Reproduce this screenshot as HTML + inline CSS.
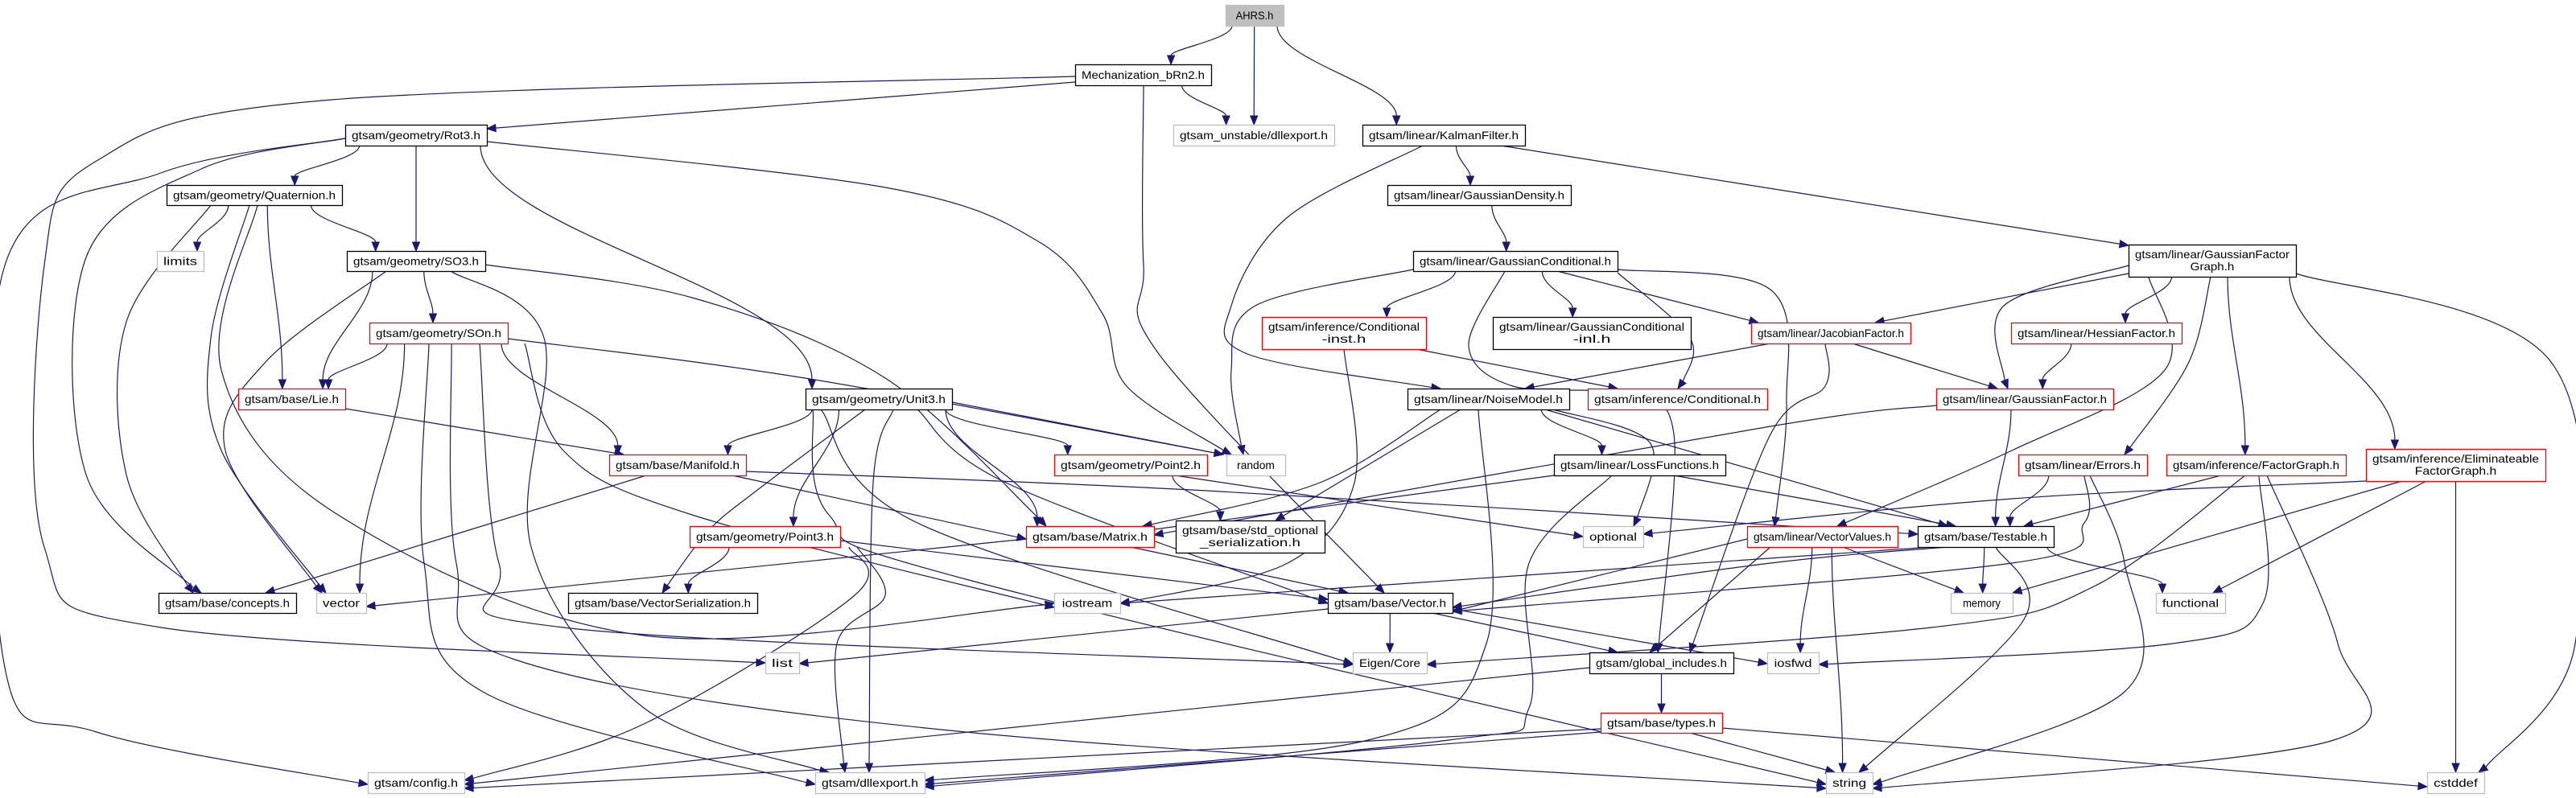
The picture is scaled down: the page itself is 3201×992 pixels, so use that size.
<!DOCTYPE html>
<html><head><meta charset="utf-8"><style>html,body{margin:0;padding:0;background:#fff}svg{display:block}</style></head>
<body>
<svg id="g" xmlns="http://www.w3.org/2000/svg" width="3201" height="992" viewBox="0 0 3201 992"></svg>
<script>
const N={
AHRS:[1523,6,1595,32,["AHRS.h"],"h"],
Mech:[1336,80,1505,106,["Mechanization_bRn2.h"],"b"],
UDll:[1458,155,1658,181,["gtsam_unstable/dllexport.h"],"g"],
Kal:[1693,155,1895,181,["gtsam/linear/KalmanFilter.h"],"b"],
Rot3:[429,155,605,181,["gtsam/geometry/Rot3.h"],"b"],
Quat:[207,230,425,255,["gtsam/geometry/Quaternion.h"],"b"],
GDen:[1724,230,1952,255,["gtsam/linear/GaussianDensity.h"],"b"],
limits:[195,312,253,337,["limits"],"g"],
SO3:[431,312,603,337,["gtsam/geometry/SO3.h"],"b"],
GCond:[1756,312,2010,337,["gtsam/linear/GaussianConditional.h"],"b"],
GFG:[2645,304,2853,344,["gtsam/linear/GaussianFactor","Graph.h"],"b"],
SOn:[459,401,631,427,["gtsam/geometry/SOn.h"],"r"],
CInst:[1568,394,1772,434,["gtsam/inference/Conditional","-inst.h"],"r"],
Inl:[1855,394,2101,434,["gtsam/linear/GaussianConditional","-inl.h"],"b"],
Jac:[2176,401,2374,427,["gtsam/linear/JacobianFactor.h"],"r"],
Hes:[2499,401,2711,427,["gtsam/linear/HessianFactor.h"],"r"],
Lie:[296,483,429,509,["gtsam/base/Lie.h"],"r"],
Unit3:[1001,483,1183,509,["gtsam/geometry/Unit3.h"],"b"],
Noise:[1749,483,1950,509,["gtsam/linear/NoiseModel.h"],"b"],
Cond:[1973,483,2196,509,["gtsam/inference/Conditional.h"],"r"],
GF:[2406,483,2626,509,["gtsam/linear/GaussianFactor.h"],"r"],
Man:[757,565,927,591,["gtsam/base/Manifold.h"],"r"],
P2:[1310,565,1500,591,["gtsam/geometry/Point2.h"],"r"],
random:[1524,565,1597,591,["random"],"g"],
Loss:[1931,565,2144,591,["gtsam/linear/LossFunctions.h"],"b"],
Err:[2508,565,2668,591,["gtsam/linear/Errors.h"],"r"],
FG:[2692,565,2915,591,["gtsam/inference/FactorGraph.h"],"r"],
Elim:[2940,558,3163,598,["gtsam/inference/Eliminateable","FactorGraph.h"],"r"],
P3:[857,654,1044,680,["gtsam/geometry/Point3.h"],"r"],
Mat:[1275,654,1434,680,["gtsam/base/Matrix.h"],"r"],
StdOpt:[1461,647,1646,687,["gtsam/base/std_optional","_serialization.h"],"b"],
optional:[1967,654,2042,680,["optional"],"g"],
VV:[2171,654,2358,680,["gtsam/linear/VectorValues.h"],"r"],
Test:[2383,654,2552,680,["gtsam/base/Testable.h"],"b"],
concepts:[197,737,368,762,["gtsam/base/concepts.h"],"b"],
vector:[393,737,455,762,["vector"],"g"],
VSer:[706,737,941,762,["gtsam/base/VectorSerialization.h"],"b"],
iostream:[1310,737,1392,762,["iostream"],"g"],
Vec:[1650,737,1805,762,["gtsam/base/Vector.h"],"b"],
memory:[2424,737,2501,762,["memory"],"g"],
functional:[2679,737,2765,762,["functional"],"g"],
list:[951,811,993,837,["list"],"g"],
Eigen:[1681,811,1773,837,["Eigen/Core"],"g"],
glob:[1975,811,2154,837,["gtsam/global_includes.h"],"b"],
iosfwd:[2196,811,2260,837,["iosfwd"],"g"],
types:[1989,886,2140,911,["gtsam/base/types.h"],"r"],
config:[457,960,577,986,["gtsam/config.h"],"g"],
dll:[1013,960,1149,986,["gtsam/dllexport.h"],"g"],
string:[2269,960,2327,986,["string"],"g"],
cstddef:[3016,960,3087,986,["cstddef"],"g"]
};
const E=[
["AHRS","Mech"],["AHRS","UDll"],["AHRS","Kal"],
["Mech","UDll"],["Mech","Rot3",[[1336,102],[605,160]]],
["Mech","list",[[1336,95],[400,125],[120,200],[55,330],[55,680],[200,780],[951,824]]],
["Mech","Vec",[[1421,106],[1421,330],[1440,440],[1720,737]]],
["Rot3","Quat"],["Rot3","SO3"],["Rot3","Unit3"],
["Rot3","random",[[605,176],[1100,233],[1290,300],[1370,390],[1400,480],[1530,565]]],
["Rot3","concepts",[[429,172],[250,210],[107,320],[107,590],[250,737]]],
["Rot3","config",[[429,172],[200,215],[6,330],[6,830],[120,910],[457,975]]],
["Quat","concepts",[[262,255],[157,400],[157,590],[240,737]]],
["Quat","limits"],["Quat","SO3"],["Quat","Lie"],
["Quat","vector",[[310,255],[262,420],[275,560],[405,737]]],
["Quat","iostream",[[320,255],[275,460],[420,640],[800,790],[1310,750]]],
["SO3","SOn"],["SO3","Lie"],
["SO3","vector",[[480,337],[330,450],[280,560],[400,737]]],
["SO3","dll",[[560,337],[676,420],[660,680],[800,880],[1030,960]]],
["SO3","Mat",[[603,329],[860,370],[1100,470],[1300,654]]],
["SOn","Lie"],["SOn","Man"],["SOn","vector"],
["SOn","random",[[631,421],[1000,470],[1520,565]]],
["SOn","dll",[[533,427],[527,700],[600,860],[1013,975]]],
["SOn","string",[[561,427],[567,700],[640,820],[1200,910],[2269,980]]],
["SOn","Eigen",[[596,427],[620,700],[700,780],[1681,826]]],
["SOn","iostream",[[652,427],[700,560],[860,640],[1310,755]]],
["Lie","Man",[[429,508],[775,565]]],
["Man","concepts",[[803,591],[330,737]]],
["Man","Mat",[[910,591],[1275,670]]],
["Man","Test",[[927,586],[1500,610],[2383,664]]],
["Unit3","Man"],["Unit3","Mat"],["Unit3","P2"],["Unit3","P3"],
["Unit3","VSer",[[1075,509],[940,610],[880,660],[823,737]]],
["Unit3","random",[[1183,500],[1520,565]]],
["Unit3","dll",[[1110,509],[1085,600],[1080,960]]],
["Unit3","Vec",[[1140,509],[1250,600],[1650,750]]],
["Unit3","string",[[1010,509],[1030,640],[1200,720],[2269,975]]],
["Unit3","Eigen",[[1020,509],[1140,650],[1681,825]]],
["P2","StdOpt"],["P2","optional",[[1460,591],[1967,667]]],
["P3","VSer"],
["P3","config",[[1055,680],[1062,740],[800,900],[577,970]]],
["P3","dll",[[1065,680],[1100,740],[1040,800],[1050,960]]],
["P3","Vec",[[1044,672],[1650,745]]],
["Mat","Vec",[[1405,680],[1675,737]]],
["Mat","vector",[[1275,670],[455,754]]],
["Vec","Eigen"],["Vec","glob",[[1780,762],[2010,811]]],
["Vec","iosfwd",[[1805,757],[2196,825]]],
["Vec","list",[[1650,757],[993,825]]],
["glob","types"],["glob","config",[[1975,830],[577,975]]],
["types","config",[[1989,906],[577,980]]],
["types","dll",[[1989,910],[1149,975]]],
["types","string",[[2100,911],[2280,960]]],
["types","cstddef",[[2140,905],[3016,978]]],
["Kal","GDen"],["Kal","GFG",[[1865,181],[2645,305]]],
["Kal","Noise",[[1768,181],[1600,270],[1530,380],[1550,440],[1790,483]]],
["GDen","GCond"],
["GCond","CInst"],["GCond","Inl"],["GCond","Jac",[[1935,337],[2185,401]]],
["GCond","Cond",[[2010,339],[2100,420],[2085,483]]],
["GCond","random",[[1756,335],[1560,380],[1530,460],[1545,565]]],
["GCond","VV",[[2010,335],[2200,360],[2220,500],[2205,654]]],
["GCond","glob",[[1870,337],[1825,430],[1880,480],[2020,490],[2080,540],[2060,811]]],
["CInst","Cond",[[1760,434],[2010,483]]],
["CInst","iostream",[[1670,434],[1683,600],[1600,700],[1392,750]]],
["Jac","Noise",[[2200,427],[1895,483]]],
["Jac","GF",[[2302,427],[2482,483]]],
["Jac","glob",[[2268,427],[2268,480],[2200,540],[2100,811]]],
["Noise","Mat",[[1790,509],[1640,600],[1420,654]]],
["Noise","StdOpt",[[1815,509],[1585,647]]],
["Noise","Loss"],
["Noise","optional",[[1930,509],[2050,550],[2030,654]]],
["Noise","Test",[[1920,509],[2420,654]]],
["Noise","dll",[[1837,509],[1847,800],[1700,920],[1149,970]]],
["Loss","Mat",[[1931,591],[1420,660]]],
["Loss","Test",[[2080,591],[2430,654]]],
["Loss","dll",[[2003,591],[1900,700],[1900,880],[1800,920],[1149,978]]],
["GFG","Jac",[[2645,340],[2330,401]]],["GFG","Hes"],
["GFG","GF",[[2645,330],[2490,380],[2495,483]]],
["GFG","Err",[[2747,344],[2720,450],[2640,565]]],
["GFG","FG"],["GFG","Elim"],
["GFG","cstddef",[[2853,340],[3170,450],[3200,800],[3080,960]]],
["GFG","VV",[[2670,344],[2690,460],[2500,560],[2283,654]]],
["Hes","GF"],
["GF","Test"],["GF","Mat",[[2406,504],[2200,530],[1434,665]]],
["Err","Test"],
["Err","string",[[2597,591],[2640,700],[2640,860],[2327,975]]],
["Err","Vec",[[2590,591],[2590,650],[2500,700],[1805,760]]],
["FG","Test",[[2760,591],[2515,654]]],
["FG","Eigen",[[2790,591],[2600,730],[2400,780],[1773,826]]],
["FG","iosfwd",[[2807,591],[2812,750],[2700,800],[2260,826]]],
["FG","string",[[2817,591],[2905,800],[2900,920],[2327,980]]],
["Elim","optional",[[2940,598],[2500,620],[2042,664]]],
["Elim","memory",[[2985,598],[2501,737]]],
["Elim","functional",[[3015,598],[2750,737]]],
["Elim","cstddef"],
["VV","Vec",[[2171,670],[1805,760]]],["VV","memory",[[2290,680],[2440,737]]],
["VV","iosfwd"],["VV","string"],
["VV","glob",[[2200,680],[2050,811]]],
["Test","memory"],["Test","functional"],
["Test","string",[[2480,680],[2515,770],[2310,960]]],
["Test","Vec",[[2420,680],[2200,700],[1805,755]]],
["Test","iostream",[[2400,680],[1392,750]]]
];
const ns="http://www.w3.org/2000/svg",S=document.getElementById("g");
function el(t,a,p){const e=document.createElementNS(ns,t);for(const k in a)e.setAttribute(k,a[k]);(p||S).appendChild(e);return e;}
const C="#191970";
function arrow(ex,ey,dx,dy){const l=Math.hypot(dx,dy)||1;dx/=l;dy/=l;const bx=ex-dx*11,by=ey-dy*11;
el("polygon",{points:`${ex},${ey} ${bx-dy*4.5},${by+dx*4.5} ${bx+dy*4.5},${by-dx*4.5}`,fill:C,stroke:C});}
const eg=el("g",{});
for(const [a,b,pts] of E){
 const s=N[a],t=N[b];let d;
 if(!pts){
  const scx=(s[0]+s[2])/2,tcx=(t[0]+t[2])/2;
  const clamp=(v,lo,hi)=>Math.max(lo,Math.min(hi,v));
  const x0=clamp(scx+(tcx-scx)*0.35,s[0]+8,s[2]-8),y0=s[3];
  const x3=clamp(tcx+(scx-tcx)*0.25,t[0]+8,t[2]-8),y3=t[1];
  const dy=y3-y0;
  const ex=x3,ey=y3-11;
  d=`M${x0},${y0} C${x0},${y0+dy*0.35} ${x3},${y3-dy*0.4} ${ex},${ey}`;
  el("path",{d,fill:"none",stroke:C,"stroke-width":1.2},eg);
  arrow(x3,y3,0,1);
 } else {
  const P=pts.map(p=>p.slice());
  const n=P.length,last=P[n-1],prev=P[n-2];
  const ddx=last[0]-prev[0],ddy=last[1]-prev[1],L=Math.hypot(ddx,ddy);
  const tip=[last[0],last[1]];
  let ux,uy;
  if(n==2){ux=ddx/L;uy=ddy/L;}
  else{const p0=P[n-3];ux=last[0]-(prev[0]+(last[0]-p0[0])/6);uy=last[1]-(prev[1]+(last[1]-p0[1])/6);const l=Math.hypot(ux,uy);ux/=l;uy/=l;}
  P[n-1]=[last[0]-ux*11,last[1]-uy*11];
  d=`M${P[0][0]},${P[0][1]}`;
  for(let i=0;i<n-1;i++){
   const p0=P[Math.max(0,i-1)],p1=P[i],p2=P[i+1],p3=P[Math.min(n-1,i+2)];
   const c1=[p1[0]+(p2[0]-p0[0])/6,p1[1]+(p2[1]-p0[1])/6];
   const c2=[p2[0]-(p3[0]-p1[0])/6,p2[1]-(p3[1]-p1[1])/6];
   d+=` C${c1[0]},${c1[1]} ${c2[0]},${c2[1]} ${p2[0]},${p2[1]}`;
  }
  el("path",{d,fill:"none",stroke:C,"stroke-width":1.2},eg);
  arrow(tip[0],tip[1],ux,uy);
 }
}
for(const k in N){
 const [x1,y1,x2,y2,lab,st]=N[k];
 const col=st=="r"?"#ff0000":(st=="g"||st=="h"?"#bfbfbf":"#000");
 el("rect",{x:x1+0.5,y:y1+0.5,width:x2-x1,height:y2-y1,fill:st=="h"?"#bfbfbf":"#fff",stroke:col,"stroke-width":1.3});
 const w=x2-x1,cx=(x1+x2)/2,cy=(y1+y2)/2;
 lab.forEach((t,i)=>{
  const y=lab.length==1?cy+5:cy-3+i*15;
  const tl=Math.min(w-16,t.length*7.8);
  const e=el("text",{x:cx,y:y,"text-anchor":"middle","font-family":"Liberation Sans, sans-serif","font-size":"14",fill:"#000",textLength:tl,lengthAdjust:"spacingAndGlyphs"});
  e.textContent=t;
 });
}
</script>
</body></html>
